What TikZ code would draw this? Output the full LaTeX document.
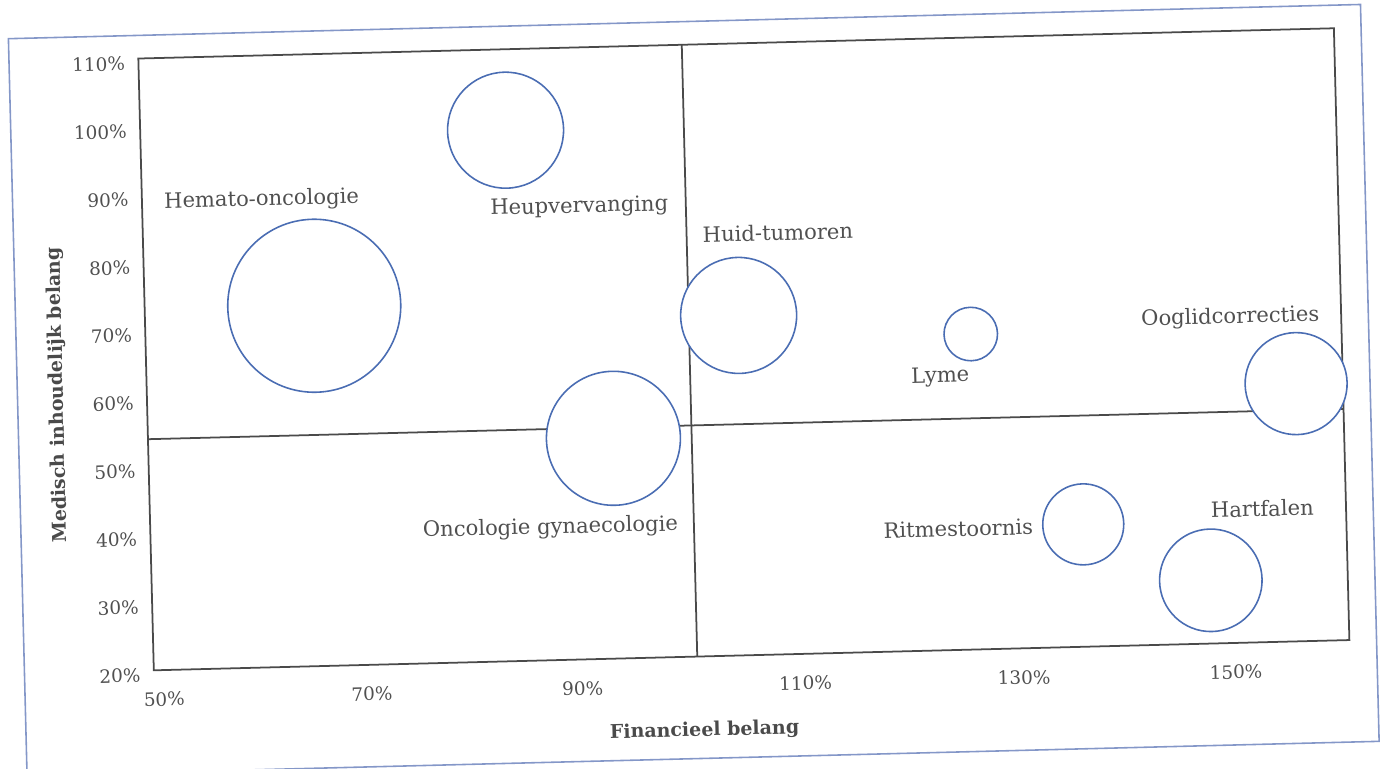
\documentclass[tikz,border=0pt]{standalone}
\usepackage{fontspec}
\setmainfont{DejaVu Serif}
\usepackage{xcolor}
\definecolor{BubbleBlue}{HTML}{4A6DB3}
\definecolor{AxisGray}{HTML}{4A4A4A}
\definecolor{LabelGray}{HTML}{505050}
\definecolor{PageBlue}{HTML}{8497C8}
\usepackage{tikz}
\usetikzlibrary{positioning}

\begin{document}
\begin{tikzpicture}
% ============================================================
%  Bubble chart: financieel vs. medisch inhoudelijk belang
% ============================================================

\tikzset{
  bubble/.style={circle, draw=BubbleBlue, line width=0.9pt, fill=white,
    inner sep=0pt, transform shape},
  bublabel/.style={font=\fontsize{12}{14}\selectfont, text=LabelGray,
    anchor=base, inner sep=0pt, transform shape},
  ticklabel/.style={font=\fontsize{10.5}{12}\selectfont, text=LabelGray,
    inner sep=0pt, transform shape},
  axistitle/.style={font=\fontsize{10.8}{12}\selectfont\bfseries,
    text=AxisGray, anchor=base, inner sep=0pt, transform shape},
  quadline/.style={AxisGray, line width=1pt},
  pageframe/.style={PageBlue, line width=0.9pt},
}

  \useasboundingbox (0,0) rectangle (27.7,15.38);
  \clip (0,0) rectangle (27.7,15.38);

  % scan is slightly tilted: data units, turned round the plot centre
  \begin{scope}[x=0.21746cm, y=0.136cm,
      shift={(14.877cm,8.394cm)}, rotate=1.45, shift={(-105,-65)}]

  % ── Page edge ─────────────────────────────────────────────
  \draw[pageframe] (38.1,5.0) rectangle (162.5,113.4);

  % ── Plot area and quadrants ───────────────────────────────
  \draw[quadline] (50,20) rectangle (160,110);
  \draw[quadline] (100,20) -- (100,110);
  \draw[quadline] (50,54) -- (160,54);

  % ── Bubbles (white fill hides the lines behind) ───────────
  \foreach \name/\x/\y/\d in {
      hemato/65.6/73.0/3.46,
      heup/83.6/98.1/2.32,
      huid/104.6/70.0/2.32,
      gyn/92.8/52.4/2.68,
      lyme/125.9/66.4/1.07,
      ooglid/155.7/57.9/2.04,
      ritme/135.8/38.0/1.62,
      hart/147.4/29.3/2.05
  }{
    \node[bubble, minimum size=\d cm] (\name) at (\x,\y) {};
  }

  % ── Bubble labels ─────────────────────────────────────────
  \node[bublabel] (lbl-hemato) at (61.0,87.9) {Hemato-oncologie};
  \node[bublabel] (lbl-heup)   at (90.2,85.7) {Heupvervanging};
  \node[bublabel] (lbl-huid)   at (108.4,80.9) {Huid-tumoren};
  \node[bublabel] (lbl-gyn)    at (86.8,38.6) {Oncologie gynaecologie};
  \node[bublabel] (lbl-lyme)   at (123.0,59.4) {Lyme};
  \node[bublabel] (lbl-ooglid) at (149.8,67.0) {Ooglidcorrecties};
  \node[bublabel] (lbl-ritme)  at (124.3,36.7) {Ritmestoornis};
  \node[bublabel] (lbl-hart)   at (152.3,38.5) {Hartfalen};

  % ── Axis ticks ────────────────────────────────────────────
  \foreach \v in {20,30,...,110}{
    \node[ticklabel, anchor=east] (ytick\v) at (48.8,\v-0.7) {\v\%};
  }
  \foreach \u/\p in {50/50.9, 70/70.0, 90/89.4, 110/109.9, 130/130.0, 150/149.5}{
    \node[ticklabel] (xtick\u) at (\p,15.7) {\u\%};
  }

  % ── Axis titles ───────────────────────────────────────────
  \node[axistitle] (xtitle) at (100.5,8.3) {Financieel belang};
  \node[axistitle, rotate=90] (ytitle) at (42.3,60.8)
    {Medisch inhoudelijk belang};

  \end{scope}
\end{tikzpicture}
\end{document}
